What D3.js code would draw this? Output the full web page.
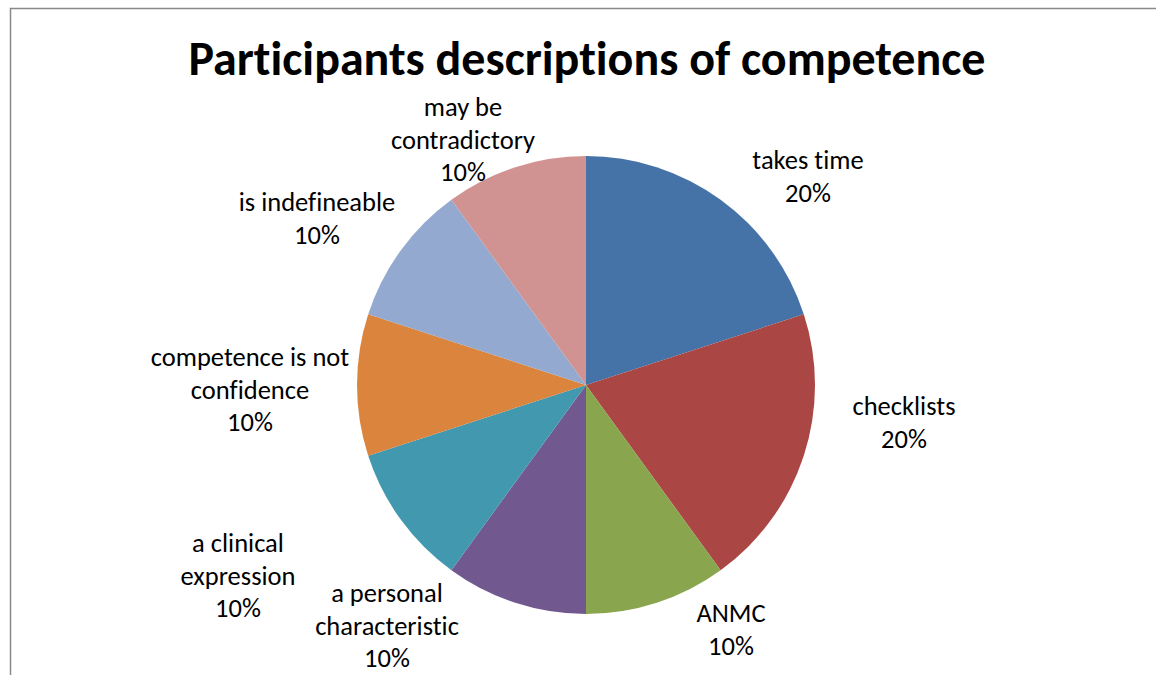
<!DOCTYPE html>
<html><head><meta charset="utf-8">
<script src="https://cdn.jsdelivr.net/npm/d3@7"></script>
<style>body{margin:0;background:#fff}svg{display:block}text{font-variant-ligatures:none;font-feature-settings:"liga" 0}</style>
</head><body>
<svg id="c" width="1156" height="675"></svg>
<script>
const categories = ["takes time","checklists","ANMC","a personal characteristic","a clinical expression","competence is not confidence","is indefineable","may be contradictory"];
const values = [20,20,10,10,10,10,10,10];
const labelLines = [["takes time"],["checklists"],["ANMC"],["a personal","characteristic"],["a clinical","expression"],["competence is not","confidence"],["is indefineable"],["may be","contradictory"]];
const colors = ["#4572A7","#AA4643","#89A54E","#71588F","#4198AF","#DB843D","#93A9CF","#D19392"];
const title = "Participants descriptions of competence";

// layout (label centres, first line y)
const labelPos = [[808,160],[904,406],[731,613],[387,593],[238,543],[250,357],[317,202],[463,107]];
const cx = 586, cy = 385, R = 229;
const font = "Carlito, Calibri, Lato, sans-serif";

const svg = d3.select("#c");
svg.append("rect").attr("x",10.5).attr("y",8.5).attr("width",1200).attr("height",800)
  .attr("fill","none").attr("stroke","#898989").attr("stroke-width",1.5);
svg.append("text").attr("x",587).attr("y",75).attr("text-anchor","middle")
  .attr("font-family",font).attr("font-weight","bold").attr("font-size",48).text(title);

const total = d3.sum(values);
const pie = d3.pie().sort(null).value(d=>d)(values);
const arc = d3.arc().innerRadius(0).outerRadius(R);
const color = d3.scaleOrdinal().domain(categories).range(colors);
const g = svg.append("g").attr("transform",`translate(${cx},${cy})`);
g.selectAll("path").data(pie).join("path").attr("d",arc)
  .attr("fill",(d,i)=>color(categories[i]));

const fs = 26.5, lh = 32.5;
labelPos.forEach((p,i)=>{
  const lines = labelLines[i].concat([d3.format(".0%")(values[i]/total)]);
  const t = svg.append("text").attr("text-anchor","middle").attr("font-family",font)
    .attr("font-size",fs).attr("fill","#000");
  lines.forEach((l,j)=>t.append("tspan").attr("x",p[0]).attr("y",p[1]+j*lh).attr("dy","0.35em").text(l));
});
</script>
</body></html>
